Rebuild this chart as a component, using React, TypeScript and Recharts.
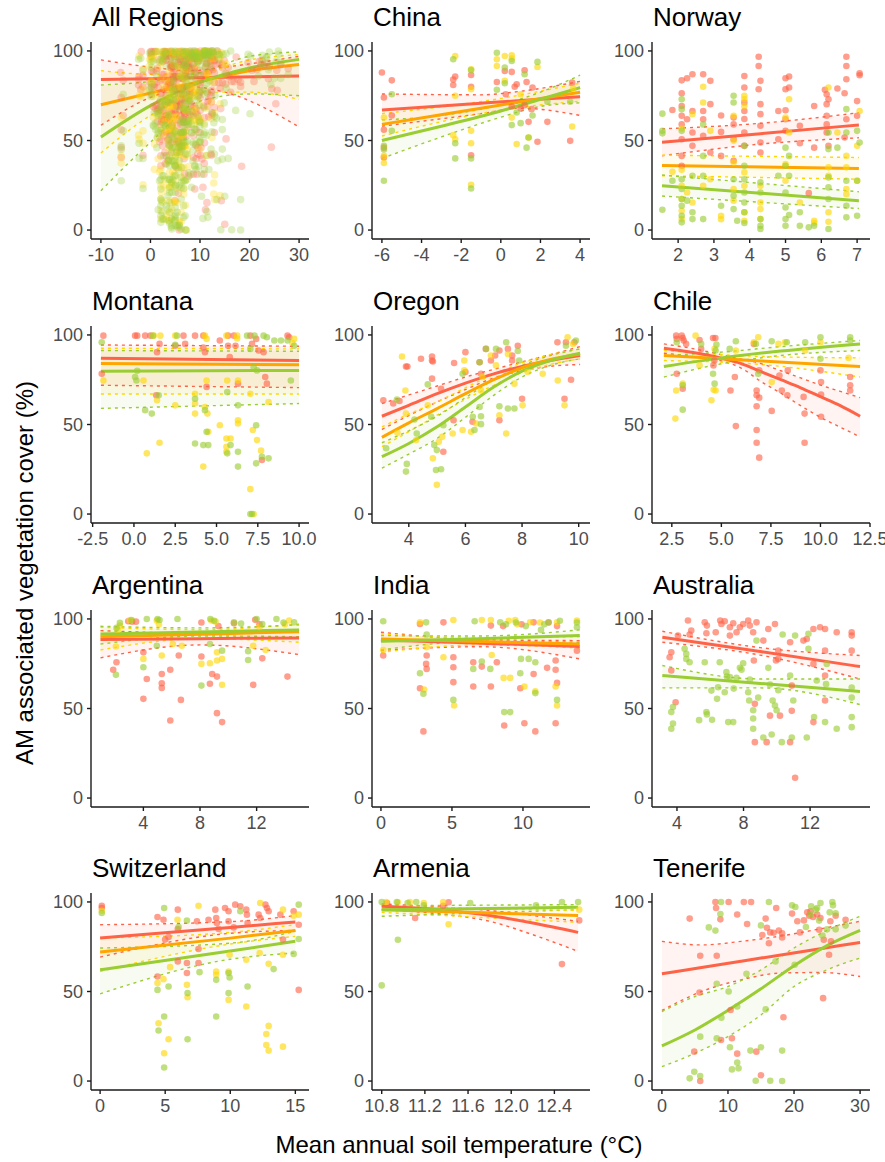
import { ComposedChart, XAxis, YAxis, Scatter, Line, Area } from 'recharts';

const FONT = '"Liberation Sans", Arial, Helvetica, sans-serif';
const RED = '#FF6347';
const ORANGE = '#FFA500';
const GOLD = '#FFD700';
const GREEN = '#9ACD32';

// fitted curves: [x, fit, lower, upper]
const allRegionsRed = [[-10, 84, 58.5, 95], [0, 84.5, 74, 91], [8, 85, 80, 89], [15, 85.3, 77, 91], [30, 86, 57.6, 97]];
const allRegionsOrange = [[-10, 70, 43, 89], [0, 76.5, 64, 87], [10, 83, 77, 88], [20, 89, 77, 95], [30, 92.5, 73, 98]];
const allRegionsGreen = [[-10, 52, 22, 81], [0, 69.5, 49, 83], [10, 82.5, 72, 88], [20, 90.5, 76, 97], [30, 95.3, 75, 99.5]];

const chinaRed = [[-6, 67, 58, 76], [-1, 70.8, 65, 75.5], [1, 72.3, 68, 77.5], [4, 74.5, 64, 83]];
const chinaOrange = [[-6, 59, 52.5, 65], [0, 69.8, 67, 73.5], [4, 77, 72, 82]];
const chinaGreen = [[-6, 50, 40, 61.5], [-3, 58, 52, 64], [0, 66.5, 63, 70], [2, 73, 69, 77], [4, 79.5, 71, 86.5]];

const norwayRed = [[1.55, 49, 41.5, 56.5], [4.3, 53.8, 48, 59.6], [7.05, 58.7, 51.5, 65.5]];
const norwayOrange = [[1.55, 36, 30.3, 41.8], [7.05, 34.4, 28.4, 40.5]];
const norwayGreen = [[1.55, 24.7, 19, 30.7], [7.05, 16.4, 12, 21.4]];

const montanaRed = [[-2, 87, 71.9, 94.4], [10, 85.7, 70.6, 93.7]];
const montanaOrange = [[-2, 84, 67, 92.6], [10, 83.3, 67, 92.2]];
const montanaGreen = [[-2, 79.8, 59, 91.3], [10, 80.2, 61.7, 90.9]];

const oregonRed = [[3.05, 54.6, 47.2, 61.7], [4, 60.7, 55, 66.5], [5, 67.2, 62.6, 71.5], [6, 73.1, 69.5, 76.5], [7, 78.3, 76, 80.8], [8, 82.4, 80, 85], [9, 85.7, 82.5, 89], [10.05, 88.5, 83.5, 93.5]];
const oregonOrange = [[3.05, 42.8, 37.6, 48.7], [4, 50.9, 46, 55.8], [5, 58.9, 55.2, 62.6], [6, 67.2, 64, 70.5], [7, 75, 71.9, 78], [8, 81.7, 79, 84.5], [9, 86.3, 83.5, 89], [10.05, 89.4, 86.7, 92.2]];
const oregonGreen = [[3.05, 32, 25.6, 39.8], [4, 39.4, 33.5, 46.5], [5, 48.7, 42.2, 54.6], [6, 59.8, 54, 65], [7, 70.9, 66.3, 75], [8, 79.8, 76.5, 83], [9, 85.7, 83, 88.5], [10.05, 89.8, 86.7, 92.2]];

const chileRed = [[2.1, 92.6, 89.8, 95], [3.5, 90.3, 88, 92.5], [5, 87, 85.5, 89], [6, 84, 81.5, 86.5], [7, 79.5, 74, 84], [8, 75, 67.5, 80], [9, 70.5, 60.5, 76], [10, 65.5, 54, 72], [11, 60.5, 48.5, 68.5], [12, 54.6, 43.1, 65]];
const chileOrange = [[2.1, 88.5, 85.7, 91.3], [7, 85.5, 83.5, 88], [12, 82.4, 76.5, 87.2]];
const chileGreen = [[2.1, 82.4, 76.5, 88.5], [5, 87.2, 83.9, 90.4], [8, 91, 88.5, 93.5], [12, 95, 91.3, 96.9]];

const argentinaRed = [[0.97, 88.5, 78.3, 93.5], [8, 89, 85.5, 92], [15, 89.4, 80.1, 93.5]];
const argentinaOrange = [[0.97, 90.1, 82.7, 95.4], [8, 91.5, 89, 94], [15, 92.9, 87, 97.2]];
const argentinaGreen = [[0.97, 91.6, 86, 95.9], [8, 92.7, 90.5, 95], [15, 93.9, 90.1, 96.7]];

const indiaRed = [[0, 88.3, 82.4, 92.6], [7, 86.5, 84.5, 88.5], [14, 84.6, 77.7, 87.9]];
const indiaOrange = [[0, 88.8, 81.4, 91.6], [7, 87.4, 85.5, 89.5], [14, 86, 83.8, 90.1]];
const indiaGreen = [[0, 87.5, 82.7, 90.7], [7, 89, 87.5, 90.5], [14, 90.7, 87, 93.9]];

const australiaRed = [[3.12, 89.8, 87, 93.1], [9, 81.8, 79.8, 84], [15, 73.4, 66.5, 79.6]];
const australiaGreen = [[3.12, 68.4, 61.5, 74], [9, 64, 61.5, 66.5], [15, 59.5, 52.2, 66.5]];

const switzerlandRed = [[0, 79.9, 69.2, 87.3], [10, 85.8, 82.5, 89], [15, 88.8, 84.1, 92.4]];
const switzerlandOrange = [[0, 72, 61.2, 79.9], [10, 79.8, 76.5, 83], [15, 84.1, 80.8, 87.3]];
const switzerlandGreen = [[0, 62.1, 48.7, 74.3], [10, 72.6, 68, 77], [15, 78, 71.5, 83.6]];

const armeniaRed = [[10.8, 97.6, 95.7, 98.9], [11.4, 95.3, 92.9, 97], [11.8, 92.4, 89.2, 95.2], [12.2, 88.2, 81.7, 92.4], [12.62, 83, 72.4, 89.2]];
const armeniaOrange = [[10.8, 95.7, 94.2, 97.6], [12.62, 92.4, 88.6, 95.3]];
const armeniaGreen = [[10.8, 95.7, 92, 97.9], [12.62, 97, 95.7, 98.5]];

const tenerifeRed = [[0, 59.9, 39.4, 78], [6, 63.4, 50, 76], [12, 66.9, 56.5, 78], [18, 70.4, 60.3, 81], [24, 73.9, 60.6, 85], [30, 77.4, 58.4, 89.2]];
const tenerifeGreen = [[0, 19.6, 8, 38.8], [5, 28.5, 15.5, 47.2], [10, 39.5, 24.8, 52.8], [15, 51.5, 36.9, 62.1], [20, 64.4, 52.8, 74.3], [25, 75.6, 62.1, 84.1], [30, 84.1, 68.7, 92]];

// observations: [x, y]
const chinaRedPts = [[-6, 88], [-5.5, 83.6], [-5.9, 74], [-5.5, 64], [-5.9, 56], [-5.9, 46], [-5.9, 40.5], [-2.4, 84], [-2.3, 85.7], [-2.4, 81], [-1.5, 86.6], [-1.5, 80], [-1.5, 41.8], [-0.2, 82.7], [0.2, 88.8], [0.55, 88.3], [0.7, 80], [0.8, 81.4], [0.25, 75.8], [0.55, 69], [1.0, 67.8], [1.2, 89.2], [1.3, 82.7], [1.4, 60.4], [1.6, 79.6], [1.85, 49.3], [2.35, 60.4], [3.6, 82.3], [3.5, 49.8], [1.2, 69.7], [1.55, 67.5]];
const chinaGoldPts = [[-5.9, 62.8], [-5.9, 37.4], [-5.9, 41.4], [-2.3, 97.2], [-2.4, 53], [-2.3, 50.7], [-2.3, 75], [-1.5, 89.8], [-1.5, 78.6], [-1.5, 55.4], [-1.5, 48.5], [-1.5, 25.3], [-0.2, 95.4], [-0.2, 91.6], [0.2, 97.2], [0.2, 83.3], [0.55, 97.6], [0.55, 95.7], [0.55, 62.8], [0.8, 48], [1.0, 75.8], [1.4, 51.7], [1.85, 91], [3.6, 57.8], [3.65, 79]];
const chinaGreenPts = [[-5.9, 27.5], [-5.9, 45], [-5.9, 47], [-5.5, 55.4], [-5.5, 75.8], [-2.4, 95.4], [-2.3, 48.5], [-2.3, 40], [-1.5, 89.4], [-1.5, 40], [-1.5, 23.2], [-0.2, 99], [-0.2, 78.3], [0.2, 90.7], [0.2, 82], [0.55, 94.4], [0.55, 58.6], [1.0, 59.7], [1.2, 87], [1.3, 46], [1.4, 51.7], [1.6, 64], [1.85, 93.9], [2.35, 71.6], [3.5, 71.6], [0.8, 65.6]];

const norwayRedPts = [[2.1, 83.6], [2.25, 84.8], [2.4, 87], [2.7, 87], [2.9, 83.3], [1.84, 67], [2.1, 76.4], [2.1, 69.3], [2.1, 63.8], [2.1, 59], [2.1, 50.7], [2.1, 41.4], [2.1, 35.9], [2.25, 61.9], [2.4, 66.5], [2.4, 54.5], [2.4, 47], [2.7, 66.5], [2.7, 61.9], [2.7, 52.6], [2.9, 70.3], [2.9, 43.3], [3.2, 64], [3.2, 41.4], [3.2, 54.8], [3.55, 62.8], [3.55, 59], [3.55, 50.7], [3.55, 38.7], [3.85, 86], [3.85, 79.6], [3.85, 71.2], [3.85, 66.5], [3.85, 62], [3.85, 54.5], [3.85, 47], [4.25, 96.8], [4.25, 91.6], [4.25, 78.6], [4.3, 83.3], [4.3, 70.3], [4.3, 64.7], [4.3, 58.2], [4.3, 48.9], [4.3, 43.3], [4.8, 66.5], [4.8, 50.7], [5.0, 84.8], [5.0, 78.6], [5.0, 66.9], [5.0, 61.9], [5.0, 55.4], [5.1, 85.7], [5.1, 79.6], [5.4, 58.2], [5.4, 48.5], [5.65, 20.6], [5.8, 69.3], [5.8, 46], [6.1, 78.3], [6.15, 75.8], [6.15, 70.3], [6.15, 63.8], [6.15, 59], [6.15, 54.5], [6.2, 73], [6.2, 47], [6.45, 79], [6.65, 76.4], [6.7, 96.8], [6.7, 91.6], [6.7, 84.2], [6.7, 61.9], [6.65, 51.7], [7.0, 72], [7.07, 87.5], [7.07, 86.4], [7.0, 63.8]];
const norwayGoldPts = [[2.1, 56.7], [2.1, 33.6], [2.1, 24.7], [2.1, 17.3], [2.1, 10.8], [2.1, 6.1], [1.84, 32.5], [2.25, 21], [2.4, 64.7], [2.4, 15.4], [2.7, 80], [2.7, 71.2], [2.7, 24.7], [2.9, 55.4], [2.9, 28.4], [3.2, 8], [3.2, 6], [3.55, 63.8], [3.55, 49.8], [3.55, 37.7], [3.55, 22.9], [3.55, 16.4], [3.85, 75], [3.85, 73], [3.85, 69.3], [3.85, 32.2], [3.85, 24.7], [3.85, 9.9], [3.85, 5.2], [4.3, 24.7], [4.3, 15.4], [4.3, 11.7], [4.3, 6.1], [5.0, 62.8], [5.0, 36.8], [5.0, 27.5], [5.1, 73], [5.1, 54.5], [5.4, 15.4], [5.8, 5.2], [5.8, 3.9], [6.2, 79.6], [6.2, 35], [6.2, 30.3], [6.2, 9.9], [6.2, 4.6], [6.45, 54.5], [6.7, 41.4], [6.7, 35], [6.7, 22.9], [6.7, 20], [7.0, 47], [7.0, 27.5], [7.07, 66.5]];
const norwayGreenPts = [[1.56, 65], [1.56, 55.4], [1.56, 54], [1.56, 11.3], [1.84, 27.5], [2.1, 73], [2.1, 67.5], [2.1, 55.4], [2.1, 28.4], [2.1, 22.9], [2.1, 17.3], [2.1, 13.6], [2.1, 8], [2.1, 4.3], [2.25, 16.4], [2.4, 30.3], [2.4, 9.9], [2.4, 6.1], [2.7, 59], [2.7, 41.4], [2.7, 30.3], [2.7, 6.1], [3.2, 13.6], [3.55, 75], [3.55, 71.2], [3.55, 28.4], [3.55, 19.1], [3.55, 11.7], [3.65, 5.2], [3.85, 47], [3.85, 35.9], [3.85, 28.4], [3.85, 21], [3.85, 15.4], [3.85, 9.9], [3.85, 3.9], [4.3, 26.6], [4.3, 21], [4.3, 6.1], [4.3, 2.4], [4.3, 0.6], [4.8, 30.3], [5.0, 46], [5.0, 35.9], [5.0, 21], [5.0, 12.6], [5.0, 6.1], [5.0, 2.4], [5.1, 41.4], [5.1, 30.3], [5.1, 8.4], [5.4, 9.9], [5.4, 2.4], [5.65, 1.5], [5.8, 2.4], [6.2, 54.5], [6.2, 45.2], [6.2, 29.4], [6.2, 23.8], [6.2, 17.3], [6.2, 0.6], [6.45, 46], [6.7, 67.5], [6.7, 54.5], [6.7, 27.5], [6.7, 13.6], [6.7, 7.1], [7.0, 55.4], [7.07, 48.9], [7.0, 27.5], [7.0, 8]];

const montanaRedPts = [[-1.85, 99.6], [-1.95, 78.3], [0.07, 99.6], [0.2, 99.6], [0.68, 99.6], [1.0, 99.6], [1.4, 90.4], [1.55, 95], [1.35, 66.3], [2.5, 94], [3.0, 99.6], [3.1, 95], [3.7, 99.6], [4.2, 99.6], [4.2, 93], [4.3, 90.4], [4.4, 71], [5.2, 96.9], [5.7, 99.6], [5.7, 94], [5.8, 87.6], [6.05, 99.6], [6.15, 94], [6.3, 72.8], [7.05, 99.6], [7.15, 95], [7.4, 97.8], [7.55, 91.3], [7.85, 90.4], [7.95, 76.5], [7.75, 30.2], [8.05, 72.8], [9.3, 99.6], [9.4, 98.7]];
const montanaGoldPts = [[-1.85, 74.6], [0.78, 33.9], [1.55, 39.8], [1.4, 63.5], [0.58, 74.6], [1.2, 99.6], [1.6, 99.6], [2.5, 60.7], [2.5, 99.6], [3.7, 56.1], [3.7, 61.7], [3.7, 67.2], [4.2, 26.5], [4.3, 59.8], [4.4, 74.6], [4.45, 56.1], [4.5, 45.9], [4.3, 99.6], [4.4, 97.8], [5.2, 49.6], [5.6, 42.2], [5.85, 42.2], [5.6, 34.8], [5.6, 37.6], [6.3, 52.4], [6.3, 50.6], [6.3, 74.6], [6.25, 99.6], [7.05, 13.9], [7.2, 46.9], [7.25, 0], [7.45, 41.3], [7.7, 35.4], [8.15, 62.6], [7.05, 67.2], [9.7, 97.8], [9.6, 95.5], [5.6, 99.6], [5.65, 74.6], [6.25, 98]];
const montanaGreenPts = [[-1.95, 95.9], [0.07, 76.5], [0.15, 74.6], [0.68, 58], [1.08, 56.1], [1.5, 66.3], [1.15, 99.6], [2.5, 94.5], [3.7, 39.4], [3.7, 64.4], [4.2, 38.5], [4.4, 45.9], [4.5, 38.5], [4.3, 58], [5.65, 33.9], [5.85, 38.5], [5.65, 68.1], [6.3, 26.5], [6.3, 34.8], [6.3, 60.7], [6.85, 99.6], [7.05, 0], [7.4, 28.3], [7.4, 49.6], [7.75, 32], [8.15, 31.1], [7.45, 80.2], [7.85, 99.6], [8.05, 98.7], [8.5, 96.9], [8.9, 96.9], [9.3, 96.9], [9.5, 74.6], [9.7, 94], [7.05, 92.2], [7.25, 82], [7.15, 0], [0.2, 80], [2.6, 99.6], [7.3, 99.6]];

const oregonRedPts = [[3.1, 63.5], [3.45, 61.7], [3.67, 63.1], [3.9, 82.4], [3.95, 82.4], [4.43, 86.7], [4.82, 88], [4.82, 85.7], [4.85, 85.2], [4.82, 75.6], [5.22, 34.8], [5.14, 70], [5.58, 52.4], [5.6, 84.3], [6.0, 90.4], [6.0, 79.3], [6.25, 51.5], [6.5, 84.8], [6.55, 78.3], [6.72, 92.2], [6.9, 85.7], [7.05, 88.5], [7.2, 52.4], [7.2, 91.3], [7.5, 92.2], [7.65, 88.5], [7.65, 85.7], [7.85, 94], [8.0, 64.4], [9.25, 95.9], [9.5, 64.4], [9.55, 95.9], [9.73, 75], [9.85, 95.9]];
const oregonGoldPts = [[3.76, 88], [3.88, 69], [3.9, 56.1], [3.6, 45.4], [4.26, 41.3], [4.67, 60.7], [4.85, 31.1], [5.06, 40.4], [5.18, 43.1], [4.99, 16.3], [5.55, 45], [5.9, 46.9], [5.96, 80.2], [5.96, 85.7], [6.2, 45.9], [6.38, 50.6], [6.55, 69], [6.6, 76.5], [6.9, 88.5], [7.08, 83], [7.2, 55.2], [7.44, 45], [7.5, 89.4], [7.73, 72.8], [8.02, 60.7], [8.2, 79.3], [8.73, 78.3], [9.26, 74.6], [9.5, 60.7], [9.61, 98.7], [9.8, 95]];
const oregonGreenPts = [[3.2, 36.7], [3.58, 63.9], [3.9, 23.7], [3.93, 28], [4.2, 52.8], [4.28, 45], [4.67, 72.4], [4.79, 54.3], [4.9, 38.5], [4.99, 35.7], [4.96, 24.6], [5.14, 25], [5.22, 49.6], [5.9, 78.3], [6.26, 54.3], [6.32, 46.9], [6.5, 84.8], [6.5, 59.8], [6.55, 54.6], [6.55, 50.2], [6.73, 92.2], [7.2, 60.2], [7.08, 92.2], [7.44, 95.9], [7.5, 58.9], [7.73, 58.9], [7.85, 91], [7.9, 85.7], [9.55, 94], [9.9, 96.9]];

const chileRedPts = [[2.72, 99.6], [2.75, 97.8], [3.0, 99.6], [3.05, 98.3], [3.1, 96.9], [3.22, 95], [3.05, 70], [2.75, 78.3], [3.9, 97.2], [3.98, 92.2], [4.58, 98.3], [4.7, 98.3], [4.6, 83], [4.65, 85.7], [5.46, 69], [5.68, 76.5], [5.73, 49.1], [6.64, 95], [6.78, 69], [6.78, 66.3], [6.78, 60.2], [6.78, 46.9], [6.78, 39.8], [6.91, 31.5], [6.91, 65], [6.91, 80.2], [7.54, 57.6], [7.93, 77.4], [8.05, 69], [8.35, 80.2], [8.33, 66.3], [9.15, 65.4], [9.2, 56.1], [9.2, 39.8], [10.0, 80.2], [10.03, 73.7], [10.03, 54.3], [10.03, 66.7], [11.5, 76.5], [11.5, 71.9], [11.5, 69]];
const chileGoldPts = [[2.72, 69], [2.68, 53.3], [3.05, 72.8], [3.7, 99.6], [3.9, 83], [4.5, 63.5], [4.61, 69.4], [4.71, 69], [4.66, 92.2], [5.73, 91.3], [6.64, 95.9], [6.86, 98.7], [7.54, 73.7], [7.88, 95], [8.21, 95.9], [9.23, 91.3], [10.0, 95.9], [11.42, 87.2]];
const chileGreenPts = [[2.75, 95.9], [3.05, 58.3], [3.05, 71.9], [3.98, 95], [4.58, 78.3], [4.66, 72.8], [4.71, 91.3], [4.75, 94.6], [5.42, 92.2], [5.73, 96.5], [6.74, 95], [6.86, 78.3], [7.54, 96.5], [8.3, 95.9], [9.23, 95.9], [10.0, 98.7], [10.0, 86.7], [11.5, 98.7], [11.5, 96.9]];

const argentinaRedPts = [[1.87, 71.6], [2.1, 75.8], [2.93, 98.7], [3.48, 98.5], [4.0, 81.4], [4.0, 55.4], [4.24, 66.5], [5.3, 69.3], [5.3, 64.1], [5.3, 61.5], [5.9, 71.6], [5.9, 43.3], [6.5, 79.6], [6.65, 54.8], [8.1, 98], [8.1, 79], [8.7, 63.8], [8.86, 69.3], [9.2, 67.8], [9.2, 47.4], [9.56, 42.4], [10.4, 97.6], [11.76, 63.2], [12.4, 78], [14.18, 67.8], [3.2, 98.5], [9.3, 96], [11.9, 99.5], [12.2, 97]];
const argentinaGoldPts = [[2.06, 84.6], [2.34, 96.3], [3.05, 99.4], [4.0, 77.7], [5.3, 79.6], [4.95, 99.1], [6.08, 86], [6.72, 85], [8.1, 74.9], [8.7, 75.3], [9.2, 76.8], [9.2, 81.4], [9.56, 77.7], [9.56, 63.2], [8.8, 99.1], [11.76, 85], [12.64, 82.7], [14.3, 99.1], [2.2, 94], [5.1, 97], [9.1, 98.5], [12.2, 95.5], [14.0, 97]];
const argentinaGreenPts = [[2.06, 68.8], [2.34, 97.8], [3.17, 99.4], [4.0, 73], [4.24, 100], [4.95, 85], [5.14, 99.4], [6.41, 100], [8.1, 62.8], [8.73, 100], [8.7, 86], [9.56, 82.3], [10.4, 98.1], [11.4, 77.1], [11.4, 82], [12.4, 97.2], [13.4, 100], [14.65, 98.1], [2.1, 95], [5.0, 100], [9.0, 99], [10.9, 97.5], [12.0, 100], [13.9, 98]];

const indiaRedPts = [[0.16, 79.6], [2.75, 97.2], [2.75, 61.3], [2.99, 37.2], [3.18, 74.9], [3.22, 72.1], [3.22, 79.6], [4.4, 98.1], [5.1, 78.6], [5.1, 73], [5.1, 64.7], [6.5, 75.8], [6.5, 62.3], [7.1, 73.4], [7.74, 62.3], [7.74, 96.3], [8.16, 75.8], [8.68, 40.5], [9.81, 61.3], [10.1, 41.8], [10.75, 69.3], [10.87, 37.2], [10.75, 98.1], [11.7, 72.7], [12.3, 76.8], [12.3, 71.6], [12.4, 64.3], [12.3, 41.8], [13.8, 82.3], [8.6, 96], [9.9, 97], [11.8, 98], [12.4, 96]];
const indiaGoldPts = [[0.16, 82.7], [2.75, 98.1], [3.04, 60.6], [3.22, 84.2], [4.4, 78.6], [5.1, 99.4], [5.15, 51.7], [7.1, 99.4], [7.74, 99.4], [7.8, 79.9], [8.64, 67.1], [9.1, 67.1], [9.46, 99.4], [10.1, 62.3], [10.5, 98.1], [10.87, 59.6], [12.3, 62.3], [12.4, 51.7], [12.4, 98.1], [13.8, 99.1], [9.0, 99], [9.6, 97], [11.2, 98]];
const indiaGreenPts = [[0.16, 98.7], [2.75, 69.7], [2.99, 58.2], [3.18, 98.1], [3.22, 91.3], [5.1, 54.8], [6.5, 72.1], [6.6, 98.7], [7.1, 76.2], [7.7, 72.1], [8.68, 48], [9.1, 48], [9.81, 69.7], [9.86, 77.7], [10.4, 77.7], [10.87, 58.6], [10.87, 75.8], [11.27, 93.9], [11.8, 98.1], [12.4, 54.8], [13.8, 95.4], [8.4, 98.1], [8.8, 97], [9.5, 98], [10.2, 96], [11.5, 97], [12.6, 99], [13.8, 98]];

const australiaRedPts = [[3.56, 78.6], [3.66, 81.4], [3.66, 71.2], [3.92, 53.5], [4.06, 90.7], [4.66, 99.1], [4.76, 91.3], [4.86, 93.5], [5.67, 98.1], [5.8, 96.3], [5.77, 92], [6.33, 92.6], [6.6, 99.1], [6.67, 97.2], [6.87, 98.7], [7.18, 95.4], [7.18, 90.7], [7.38, 97.6], [7.58, 92.6], [7.78, 95.4], [7.98, 97.2], [8.28, 99.1], [8.38, 96.3], [8.58, 92.6], [8.78, 98.1], [8.62, 76.8], [8.68, 52.6], [8.68, 31.2], [9.19, 87.9], [9.49, 94.4], [9.39, 31.2], [9.59, 46], [9.89, 97.2], [9.95, 76.8], [10.09, 82.3], [10.09, 77.7], [10.19, 46], [10.8, 87], [10.9, 62.8], [10.8, 31.2], [10.9, 48.7], [11.1, 11.3], [11.6, 87.9], [11.8, 88.8], [12.2, 94.4], [12.2, 74.9], [12.2, 42.4], [12.6, 95.4], [12.9, 94.4], [12.9, 82.3], [12.9, 68.4], [12.9, 54.5], [13.6, 92.6], [14.5, 92.6], [14.5, 90.7], [14.5, 82.3]];
const australiaGreenPts = [[3.66, 48], [3.66, 38.7], [3.76, 50.8], [3.76, 41.6], [4.46, 83.3], [4.56, 80.5], [4.56, 77.7], [4.76, 75.8], [5.33, 43.5], [5.67, 75.8], [5.77, 48], [5.8, 46.7], [6.11, 43.7], [6.07, 60], [6.47, 61.9], [6.57, 75.8], [6.41, 55.4], [6.87, 59.1], [7.0, 67.8], [7.08, 42.4], [7.38, 42.4], [6.97, 70.3], [7.18, 67.5], [7.41, 61.1], [7.58, 67.1], [7.78, 72.7], [7.88, 71.7], [7.98, 75.3], [8.28, 59.1], [8.34, 54.5], [8.38, 66.1], [8.58, 44.4], [8.58, 38.7], [8.58, 49], [8.78, 87.9], [8.88, 56.1], [9.19, 33.8], [9.49, 72.7], [9.59, 63.4], [9.69, 35.5], [9.75, 54.5], [9.89, 51.7], [9.99, 49], [10.09, 60.2], [10.3, 31.2], [10.35, 91.3], [10.8, 68.4], [10.99, 54.5], [10.9, 33.8], [11.1, 90.7], [11.8, 33.8], [11.9, 91.7], [11.9, 83.3], [12.24, 45.2], [12.4, 65.6], [12.9, 42.4], [12.96, 63.6], [13.0, 74.9], [13.6, 38.7], [14.5, 56.1], [14.5, 45.2], [14.5, 39.6], [14.5, 61.7]];

const switzerlandRedPts = [[0.13, 97.9], [0.13, 96.6], [4.41, 58.4], [4.41, 91.6], [4.87, 90.1], [5.0, 79], [5.26, 80.4], [5.97, 95.7], [5.97, 84.9], [5.97, 66.8], [6.67, 65.9], [6.67, 60.3], [7.44, 89.2], [7.56, 73.7], [7.56, 65.9], [8.33, 90.1], [8.85, 95.7], [8.92, 91], [8.97, 88.2], [9.1, 84.9], [9.6, 96.6], [9.87, 94.8], [9.87, 89.2], [10.26, 85.8], [10.38, 98.5], [10.77, 97.6], [11.23, 95.7], [11.28, 92.9], [11.33, 88.2], [12.18, 92.9], [12.3, 91], [12.7, 98.5], [12.82, 96.6], [12.95, 94.8], [13.85, 92.9], [14.05, 79], [14.87, 94.8], [15.26, 50.9], [15.26, 87.3]];
const switzerlandGoldPts = [[0.13, 95.1], [4.41, 54.7], [4.49, 32.3], [4.87, 56.9], [4.92, 15.5], [5.26, 23.3], [5.38, 63.6], [5.95, 90.1], [6.67, 53.7], [6.72, 46.8], [7.56, 97.9], [8.92, 61.2], [8.92, 59.3], [9.87, 45.3], [9.87, 61.2], [9.95, 70.5], [11.23, 67.7], [11.23, 41.6], [12.3, 99.4], [12.26, 71.5], [12.77, 26.3], [12.95, 65.5], [12.95, 30.8], [12.77, 20.1], [12.95, 17], [14.05, 19.2], [14.05, 70.5], [14.05, 95.7], [14.87, 92.3], [15.26, 92.9]];
const switzerlandGreenPts = [[0.13, 93.8], [4.41, 50.9], [4.49, 28.2], [4.92, 36], [4.92, 7.6], [4.92, 96.6], [5.26, 52.8], [6.03, 86], [6.67, 89.6], [6.72, 49.1], [6.72, 23.3], [7.64, 60.8], [8.92, 56.5], [8.92, 36], [9.87, 60.3], [9.87, 49.1], [9.95, 57.8], [10.77, 94.8], [11.33, 52.8], [13.33, 62.5], [15.26, 98.5], [15.26, 79.3], [14.87, 71]];

const armeniaRedPts = [[10.85, 99.4], [11.11, 91], [11.37, 97.9], [11.42, 99.8], [12.47, 65.3], [12.63, 89.7]];
const armeniaGoldPts = [[10.84, 100], [10.95, 99.8], [11.06, 100], [11.19, 99.4], [11.37, 100], [11.42, 87.5], [12.63, 95.7]];
const armeniaGreenPts = [[10.8, 100], [10.8, 53.4], [10.94, 100], [10.95, 78.9], [11.04, 99.4], [11.12, 100], [11.19, 98.1], [11.62, 99.4], [12.23, 98.1], [12.47, 100], [12.62, 100]];

const tenerifeRedPts = [[4.2, 90.7], [4.9, 16.4], [5.7, 49.4], [5.8, 70], [5.8, 0], [8.1, 100], [8.2, 96.6], [8.3, 70], [8.85, 90.3], [8.95, 22.9], [10.1, 100], [10.4, 39.7], [10.6, 23.9], [11.4, 93], [11.4, 15.3], [12.4, 100], [12.9, 87.7], [13.5, 100], [14.3, 16.4], [15, 3.2], [15.2, 81.5], [15.7, 90.7], [15.9, 85.6], [16.2, 76.9], [16.4, 83], [16.9, 82.8], [17.3, 96.6], [17.7, 84.1], [18.2, 82.5], [18.2, 80.2], [18.4, 35.6], [19.7, 93.5], [20.5, 89.2], [20.9, 83], [21.5, 89.7], [22, 94.2], [22.3, 92.3], [22.5, 94.8], [22.9, 91.6], [23.5, 93], [23.8, 84.5], [24, 91], [24.4, 46.3], [24.5, 78.9], [25.3, 70.5], [25.5, 89.2], [25.6, 78], [26.3, 92.3], [27.8, 90.1]];
const tenerifeGreenPts = [[4.2, 1.5], [4.9, 5.2], [5.8, 2.8], [5.8, 24.8], [7.1, 85.8], [8.1, 84], [8.3, 54.3], [8.3, 23.9], [8.95, 100], [8.85, 93.3], [9.0, 35.4], [10.1, 50], [10.3, 18.9], [10.6, 6.5], [11.4, 41.6], [11.4, 10.3], [11.6, 7.1], [12.8, 59.9], [13.4, 17], [14.2, 0.2], [15, 18.9], [15, 86.9], [15.7, 40], [16.2, 100], [16.4, 0.2], [17.2, 66.8], [18.2, 17], [18.2, 0], [19.7, 98.1], [20.1, 64.9], [20.2, 97.2], [21.8, 86], [22.5, 92.9], [22.6, 97.6], [23.3, 95.7], [23.5, 96.6], [23.8, 89.6], [24, 99.4], [24.3, 81.3], [25, 84.7], [25.4, 94.2], [25.8, 100], [25.9, 98.1], [26.3, 84.7], [26.3, 93.7], [27.8, 86.8]];

// "All Regions" pools every regional observation
const allRegionsRedPts = [...chinaRedPts, ...norwayRedPts, ...montanaRedPts, ...oregonRedPts, ...chileRedPts, ...argentinaRedPts, ...indiaRedPts, ...australiaRedPts, ...switzerlandRedPts, ...armeniaRedPts, ...tenerifeRedPts];
const allRegionsGoldPts = [...chinaGoldPts, ...norwayGoldPts, ...montanaGoldPts, ...oregonGoldPts, ...chileGoldPts, ...argentinaGoldPts, ...indiaGoldPts, ...switzerlandGoldPts, ...armeniaGoldPts];
const allRegionsGreenPts = [...chinaGreenPts, ...norwayGreenPts, ...montanaGreenPts, ...oregonGreenPts, ...chileGreenPts, ...argentinaGreenPts, ...indiaGreenPts, ...australiaGreenPts, ...switzerlandGreenPts, ...armeniaGreenPts, ...tenerifeGreenPts];

const yTicks = [0, 50, 100];

const panels = [
  { title: 'All Regions', col: 0, row: 0, domain: [-12, 32], ticks: [-10, 0, 10, 20, 30], dec: 0, big: true,
    red: allRegionsRed, orange: allRegionsOrange, green: allRegionsGreen, redPts: allRegionsRedPts, goldPts: allRegionsGoldPts, greenPts: allRegionsGreenPts },
  { title: 'China', col: 1, row: 0, domain: [-6.5, 4.5], ticks: [-6, -4, -2, 0, 2, 4], dec: 0,
    red: chinaRed, orange: chinaOrange, green: chinaGreen, redPts: chinaRedPts, goldPts: chinaGoldPts, greenPts: chinaGreenPts },
  { title: 'Norway', col: 2, row: 0, domain: [1.27, 7.36], ticks: [2, 3, 4, 5, 6, 7], dec: 0,
    red: norwayRed, orange: norwayOrange, green: norwayGreen, redPts: norwayRedPts, goldPts: norwayGoldPts, greenPts: norwayGreenPts },
  { title: 'Montana', col: 0, row: 1, domain: [-2.6, 10.6], ticks: [-2.5, 0, 2.5, 5, 7.5, 10], dec: 1,
    red: montanaRed, orange: montanaOrange, green: montanaGreen, redPts: montanaRedPts, goldPts: montanaGoldPts, greenPts: montanaGreenPts },
  { title: 'Oregon', col: 1, row: 1, domain: [2.7, 10.4], ticks: [4, 6, 8, 10], dec: 0,
    red: oregonRed, orange: oregonOrange, green: oregonGreen, redPts: oregonRedPts, goldPts: oregonGoldPts, greenPts: oregonGreenPts },
  { title: 'Chile', col: 2, row: 1, domain: [1.5, 12.5], ticks: [2.5, 5, 7.5, 10, 12.5], dec: 1,
    red: chileRed, orange: chileOrange, green: chileGreen, redPts: chileRedPts, goldPts: chileGoldPts, greenPts: chileGreenPts },
  { title: 'Argentina', col: 0, row: 2, domain: [0.3, 15.7], ticks: [4, 8, 12], dec: 0,
    red: argentinaRed, orange: argentinaOrange, green: argentinaGreen, redPts: argentinaRedPts, goldPts: argentinaGoldPts, greenPts: argentinaGreenPts },
  { title: 'India', col: 1, row: 2, domain: [-0.63, 14.72], ticks: [0, 5, 10], dec: 0,
    red: indiaRed, orange: indiaOrange, green: indiaGreen, redPts: indiaRedPts, goldPts: indiaGoldPts, greenPts: indiaGreenPts },
  { title: 'Australia', col: 2, row: 2, domain: [2.5, 15.6], ticks: [4, 8, 12], dec: 0,
    red: australiaRed, orange: null, green: australiaGreen, redPts: australiaRedPts, goldPts: [], greenPts: australiaGreenPts },
  { title: 'Switzerland', col: 0, row: 3, domain: [-0.7, 16.05], ticks: [0, 5, 10, 15], dec: 0,
    red: switzerlandRed, orange: switzerlandOrange, green: switzerlandGreen, redPts: switzerlandRedPts, goldPts: switzerlandGoldPts, greenPts: switzerlandGreenPts },
  { title: 'Armenia', col: 1, row: 3, domain: [10.71, 12.73], ticks: [10.8, 11.2, 11.6, 12.0, 12.4], dec: 1,
    red: armeniaRed, orange: armeniaOrange, green: armeniaGreen, redPts: armeniaRedPts, goldPts: armeniaGoldPts, greenPts: armeniaGreenPts },
  { title: 'Tenerife', col: 2, row: 3, domain: [-1.5, 31.5], ticks: [0, 10, 20, 30], dec: 0,
    red: tenerifeRed, orange: null, green: tenerifeGreen, redPts: tenerifeRedPts, goldPts: [], greenPts: tenerifeGreenPts },
];

const COLS = [91, 372, 652];
const ROWS = [42, 326, 610, 893];
const PW = 218;
const PH = 197;
const ML = 60;
const MT = 10;

const toFit = (rows) => rows.map(([x, y, lo, hi]) => ({ x, y, lo, hi }));
const toPts = (rows) => rows.map(([x, y]) => ({ x, y }));

const tickStyle = { fill: '#4D4D4D', fontSize: 18, fontFamily: FONT };
const axisStyle = { stroke: '#1A1A1A', strokeWidth: 1.4 };

function Panel({ cfg }) {
  const r = cfg.big ? 3.8 : 3.3;
  const op = cfg.big ? 0.3 : 0.62;
  const dot = (color) => (p) => <circle cx={p.cx} cy={p.cy} r={r} fill={color} fillOpacity={op} />;
  const series = [
    { key: 'r', line: RED, ci: RED, fit: cfg.red },
    { key: 'o', line: ORANGE, ci: GOLD, fit: cfg.orange },
    { key: 'g', line: GREEN, ci: GREEN, fit: cfg.green },
  ].filter((s) => s.fit).map((s) => ({ ...s, rows: toFit(s.fit) }));
  const pts = [
    { key: 'r', color: RED, data: toPts(cfg.redPts) },
    { key: 'o', color: GOLD, data: toPts(cfg.goldPts) },
    { key: 'g', color: GREEN, data: toPts(cfg.greenPts) },
  ].filter((p) => p.data.length);

  return (
    <div style={{ position: 'absolute', left: COLS[cfg.col] - ML, top: ROWS[cfg.row] - MT }}>
      <ComposedChart width={ML + PW + 20} height={MT + PH + 40} margin={{ top: MT, right: 20, bottom: 0, left: 0 }}>
        <XAxis
          type="number"
          dataKey="x"
          domain={cfg.domain}
          ticks={cfg.ticks}
          interval={0}
          allowDataOverflow
          height={40}
          tickSize={4}
          tickMargin={5}
          tick={tickStyle}
          axisLine={axisStyle}
          tickLine={axisStyle}
          tickFormatter={(v) => (cfg.dec ? Number(v).toFixed(cfg.dec) : String(v))}
        />
        <YAxis
          type="number"
          dataKey="y"
          domain={[-5, 105]}
          ticks={yTicks}
          interval={0}
          allowDataOverflow
          width={ML}
          tickSize={4}
          tickMargin={4}
          tick={tickStyle}
          axisLine={axisStyle}
          tickLine={axisStyle}
        />
        {series.map((s) => (
          <Area
            key={'band' + s.key}
            data={s.rows}
            dataKey={(d) => [d.lo, d.hi]}
            type="monotone"
            stroke="none"
            fill={s.ci}
            fillOpacity={0.07}
            dot={false}
            activeDot={false}
            isAnimationActive={false}
          />
        ))}
        {pts.map((p) => (
          <Scatter key={'pts' + p.key} data={p.data} shape={dot(p.color)} isAnimationActive={false} />
        ))}
        {series.map((s) => (
          <Line key={'lo' + s.key} data={s.rows} dataKey="lo" type="monotone" stroke={s.ci} strokeWidth={1.4}
            strokeDasharray="3 4" dot={false} activeDot={false} isAnimationActive={false} />
        ))}
        {series.map((s) => (
          <Line key={'hi' + s.key} data={s.rows} dataKey="hi" type="monotone" stroke={s.ci} strokeWidth={1.4}
            strokeDasharray="3 4" dot={false} activeDot={false} isAnimationActive={false} />
        ))}
        {series.map((s) => (
          <Line key={'fit' + s.key} data={s.rows} dataKey="y" type="monotone" stroke={s.line} strokeWidth={3}
            dot={false} activeDot={false} isAnimationActive={false} />
        ))}
      </ComposedChart>
    </div>
  );
}

export default function App() {
  return (
    <div style={{ position: 'absolute', left: 0, top: 0, width: 885, height: 1162, overflow: 'hidden', background: '#fff', fontFamily: FONT }}>
      {panels.map((p) => (
        <Panel key={p.title} cfg={p} />
      ))}
      <svg width={885} height={1162} style={{ position: 'absolute', left: 0, top: 0, pointerEvents: 'none' }}>
        {panels.map((p) => (
          <text key={p.title} x={COLS[p.col] + 1} y={ROWS[p.row] - 16} fontSize={26} fill="#000" fontFamily={FONT}>
            {p.title}
          </text>
        ))}
        <text x={459} y={1153} fontSize={24} fill="#000" fontFamily={FONT} textAnchor="middle">
          Mean annual soil temperature (°C)
        </text>
        <text transform="translate(33, 573) rotate(-90)" fontSize={24} fill="#000" fontFamily={FONT} textAnchor="middle">
          AM associated vegetation cover (%)
        </text>
      </svg>
    </div>
  );
}
